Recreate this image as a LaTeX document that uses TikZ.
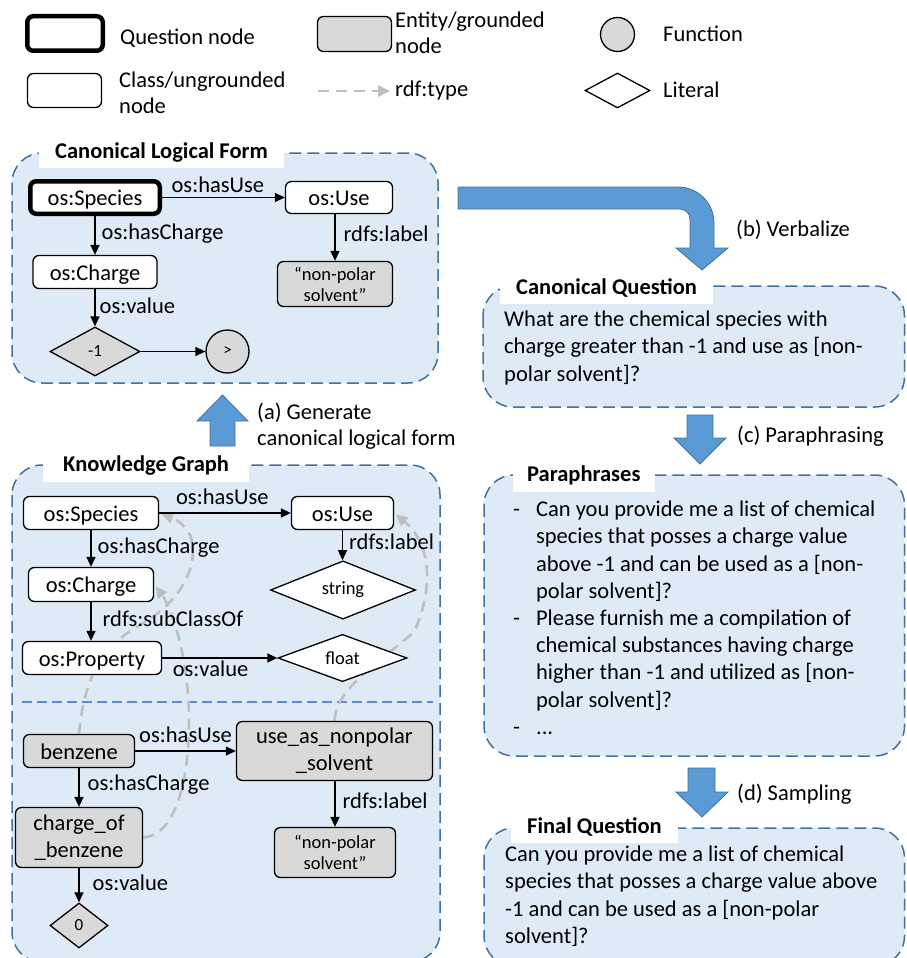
\documentclass[tikz,border=0pt]{standalone}
\usepackage{fontspec}
\setmainfont{Carlito}
\usetikzlibrary{arrows.meta,shapes.geometric}
\pgfdeclarelayer{back}
\pgfdeclarelayer{mid}
\pgfsetlayers{back,mid,main}
\definecolor{panelfill}{HTML}{DEEBF7}
\definecolor{panelline}{HTML}{41719C}
\definecolor{entfill}{HTML}{D9D9D9}
\definecolor{arrowfill}{HTML}{5B9BD5}
\definecolor{typegray}{HTML}{BFBFBF}
\definecolor{sepline}{HTML}{5B8BD5}
\newcommand\fsN{\fontsize{22.5}{27.2}\selectfont}
\newcommand\fsL{\fontsize{22.5}{26.2}\selectfont}
\newcommand\fsS{\fontsize{18.5}{21}\selectfont}
\newcommand\fsT{\fontsize{17}{20}\selectfont}
\tikzset{
  box/.style={draw=black, line width=1.3pt, rounded corners=6pt, fill=white, inner sep=0pt, font=\fsN, align=center},
  one/.style={text height=16pt, text depth=0pt},
  qbox/.style={box, one, line width=4.5pt},
  cbox/.style={box, one},
  ebox/.style={box, one, fill=entfill},
  ebox2/.style={box, fill=entfill},
  lit/.style={diamond, draw=black, line width=1.3pt, fill=white, inner sep=0pt, font=\fsS},
  elit/.style={lit, fill=entfill, font=\fsT},
  func/.style={circle, draw=black, line width=1.3pt, fill=entfill, inner sep=0pt, font=\fsT},
  rel/.style={draw=black, line width=1.3pt, -{Triangle[length=10pt,width=9pt]}},
  lbl/.style={font=\fsN, inner sep=0pt},
  typ/.style={draw=typegray, line width=2.6pt, dash pattern=on 11pt off 7pt, -{Triangle[length=12pt,width=11pt]}, shorten >=2pt},
  panel/.style={draw=panelline, line width=1.5pt, dash pattern=on 12pt off 6pt, fill=panelfill, rounded corners=30pt},
  ptitle/.style={fill=white, font=\fsN\bfseries, inner xsep=16pt, inner ysep=1pt, text height=15.5pt, text depth=9pt, anchor=base west},
  body/.style={font=\fsN, inner sep=0pt, anchor=base west},
  legtxt/.style={font=\fsL, inner sep=0pt, anchor=base west},
  blockarrow/.style={fill=arrowfill, draw=panelline, line width=0.8pt, line join=miter},
}
\begin{document}
\begin{tikzpicture}[x=1pt,y=-1pt]
\useasboundingbox (0,0) rectangle (906,958);

% ---------------- panels ----------------
\begin{pgfonlayer}{back}
\draw[panel] (12,153) rectangle (438,383);
\draw[panel] (12,465) rectangle (440,962);
\draw[panel] (483,286) rectangle (904.5,407);
\draw[panel] (484,475) rectangle (904.5,756);
\draw[panel] (484,828) rectangle (904.5,966);
\draw[sepline, line width=1.2pt, dash pattern=on 10pt off 5pt] (22,702) -- (433,702);
\end{pgfonlayer}

% ---------------- legend ----------------
\node[qbox, minimum width=75.5pt, minimum height=34.5pt] (lq) at (65,33.5) {};
\node[cbox, minimum width=74pt, minimum height=34pt] (lc) at (64.5,90.5) {};
\node[ebox, minimum width=74pt, minimum height=35pt] (le) at (354.5,34) {};
\node[func, minimum size=34pt] (lf) at (617.5,34.5) {};
\node[lit, minimum width=65pt, minimum height=35pt] (ll) at (617.5,90.5) {};
\coordinate (la1) at (318,91);
\coordinate (la2) at (390,91);
\draw[typ, shorten >=0pt] (la1) -- (la2);
\node[legtxt] (tq) at (120,45) {Question node};
\node[legtxt] (tc) at (119,87.3) {\begin{tabular}[t]{@{}l@{}}Class/ungrounded\\node\end{tabular}};
\node[legtxt] (te) at (395,27.3) {\begin{tabular}[t]{@{}l@{}}Entity/grounded\\node\end{tabular}};
\node[legtxt] (tr) at (395,96.7) {rdf:type};
\node[legtxt] (tf) at (663,41.7) {Function};
\node[legtxt] (tl) at (663,97.3) {Literal};

% ---------------- canonical logical form ----------------
\node[ptitle] (tclf) at (39,158.3) {Canonical Logical Form};
\node[qbox, minimum width=129.5pt, minimum height=32.5pt] (sp) at (95,197.5) {os:Species};
\node[cbox, minimum width=107pt, minimum height=32pt] (use) at (339,197.5) {os:Use};
\node[cbox, minimum width=124pt, minimum height=33pt] (ch) at (95,272) {os:Charge};
\node[ebox2, font=\fsS, minimum width=115pt, minimum height=45pt] (np) at (335,284) {“non-polar\\solvent”};
\node[elit, minimum width=90pt, minimum height=49pt] (dm) at (95,351.5) {-1};
\node[func, minimum size=43pt] (gt) at (227.5,351.5) {>};

\draw[rel] (sp.east) -- node[lbl, anchor=base, pos=.455, yshift=5pt] {os:hasUse} (use.west);
\draw[rel] (sp.south) -- node[lbl, anchor=base west, xshift=6pt, yshift=-4.5pt] {os:hasCharge} (ch.north);
\draw[rel] (ch.south) -- node[lbl, anchor=base west, xshift=4pt, yshift=-6pt] {os:value} (dm.north);
\draw[rel] (dm.east) -- (gt.west);
\draw[rel] (use.south -| np.north) -- node[lbl, anchor=base west, xshift=8pt, yshift=-3.7pt] {rdfs:label} (np.north);

% ---------------- knowledge graph ----------------
\node[ptitle, inner xsep=20pt] (tkg) at (43,471.7) {Knowledge Graph};
\node[cbox, minimum width=135pt, minimum height=33pt] (ksp) at (91,513) {os:Species};
\node[cbox, minimum width=102pt, minimum height=33pt] (kuse) at (342.5,513) {os:Use};
\node[cbox, minimum width=125pt, minimum height=34pt] (kch) at (91,584.5) {os:Charge};
\node[cbox, minimum width=139pt, minimum height=33pt] (kprop) at (92,658) {os:Property};
\node[lit, minimum width=145pt, minimum height=40pt] (kstr) at (343,590) {string};
\node[lit, minimum width=129pt, minimum height=40pt] (kfl) at (342.5,658) {float};
\node[ebox, minimum width=111pt, minimum height=33pt] (kben) at (79,751) {benzene};
\node[ebox2, minimum width=196pt, minimum height=59pt] (kuas) at (334.5,751) {use\_as\_nonpolar\\\_solvent};
\node[ebox2, minimum width=127pt, minimum height=60pt] (kcob) at (79,837.5) {charge\_of\\\_benzene};
\node[elit, minimum width=58pt, minimum height=45pt] (kz) at (79,925.5) {0};
\node[ebox2, font=\fsS, minimum width=121pt, minimum height=50pt] (knp) at (335,852.5) {“non-polar\\solvent”};

\draw[rel] (ksp.east) -- node[lbl, anchor=base, pos=.48, yshift=9pt] {os:hasUse} (kuse.west);
\draw[rel] (ksp.south) -- node[lbl, anchor=base west, xshift=6pt, yshift=-5.3pt] {os:hasCharge} (kch.north);
\draw[rel] (kch.south) -- node[lbl, anchor=base west, xshift=11pt, yshift=-4.5pt] {rdfs:subClassOf} (kch.south |- kprop.north);
\draw[rel] (kprop.east) -- node[lbl, anchor=base, pos=.42, yshift=-18.7pt] {os:value} (kfl.west);
\draw[rel] (kuse.south) -- node[lbl, anchor=base west, xshift=6pt, yshift=-4pt] {rdfs:label} (kuse.south |- kstr.north);
\draw[rel] (kben.east) -- node[lbl, anchor=base, pos=.5, yshift=8.7pt] {os:hasUse} (kuas.west);
\draw[rel] (kben.south) -- node[lbl, anchor=base west, xshift=8pt, yshift=-3.2pt] {os:hasCharge} (kcob.north);
\draw[rel] (kcob.south) -- node[lbl, anchor=base west, xshift=13pt, yshift=-5.2pt] {os:value} (kz.north);
\draw[rel] (kuas.south -| knp.north) -- node[lbl, anchor=base west, xshift=7pt, yshift=-4.3pt] {rdfs:label} (knp.north);

% rdf:type links
\begin{pgfonlayer}{mid}
\draw[typ] (kben.north) .. controls (83,690) and (95,650) .. (140,625)
  .. controls (185,600) and (200,560) .. (190,535)
  .. controls (184,524) and (176,519) .. (ksp.east);
\draw[typ] (kcob.east) .. controls (172,836) and (189,790) .. (189,720)
  .. controls (189,660) and (172,608) .. (kch.east);
\draw[typ] (kuas.north) .. controls (336,688) and (380,662) .. (414,632)
  .. controls (430,598) and (436,548) .. (kuse.east);
\end{pgfonlayer}

% ---------------- block arrows ----------------
\draw[blockarrow] (210,446) -- (210,421) -- (197,421) -- (222.5,395) -- (248,421) -- (235,421) -- (235,446) -- cycle;
\draw[blockarrow] (458,187) -- (678,187) .. controls (698,187) and (714,203) .. (714,223)
  -- (714,248) -- (728,248) -- (702,270) -- (676,248) -- (690,248) -- (690,219)
  .. controls (690,213.5) and (685.5,209) .. (680,209) -- (458,209) -- cycle;
\draw[blockarrow] (687,415) -- (713,415) -- (713,438) -- (726,438) -- (700,464) -- (674,438) -- (687,438) -- cycle;
\draw[blockarrow] (688,768) -- (715,768) -- (715,792) -- (728,792) -- (702,817) -- (676,792) -- (688,792) -- cycle;

\node[legtxt] (la) at (257,419.3) {\begin{tabular}[t]{@{}l@{}}(a) Generate\\canonical logical form\end{tabular}};
\node[legtxt] (lb) at (736,236.7) {(b) Verbalize};
\node[legtxt] (lcp) at (737,442.7) {(c) Paraphrasing};
\node[legtxt] (ld) at (737,800) {(d) Sampling};

% ---------------- right panels ----------------
\node[ptitle] (tcq) at (500,294.3) {Canonical Question};
\node[body] (cqt) at (504,326.7) {\begin{tabular}[t]{@{}l@{}}What are the chemical species with\\charge greater than -1 and use as [non-\\polar solvent]?\end{tabular}};

\node[ptitle, inner xsep=14pt] (tpp) at (513,481.7) {Paraphrases};
\node[body] (ppt) at (513,516.7) {\begin{tabular}[t]{@{}l@{\hspace{16pt}}l@{}}
- & Can you provide me a list of chemical\\
  & species that posses a charge value\\
  & above -1 and can be used as a [non-\\
  & polar solvent]?\\
- & Please furnish me a compilation of\\
  & chemical substances having charge\\
  & higher than -1 and utilized as [non-\\
  & polar solvent]?\\
- & ...\end{tabular}};

\node[ptitle] (tfq) at (511,833.3) {Final Question};
\node[body] (fqt) at (505,861.7) {\begin{tabular}[t]{@{}l@{}}Can you provide me a list of chemical\\species that posses a charge value above\\-1 and can be used as a [non-polar\\solvent]?\end{tabular}};
\end{tikzpicture}
\end{document}
